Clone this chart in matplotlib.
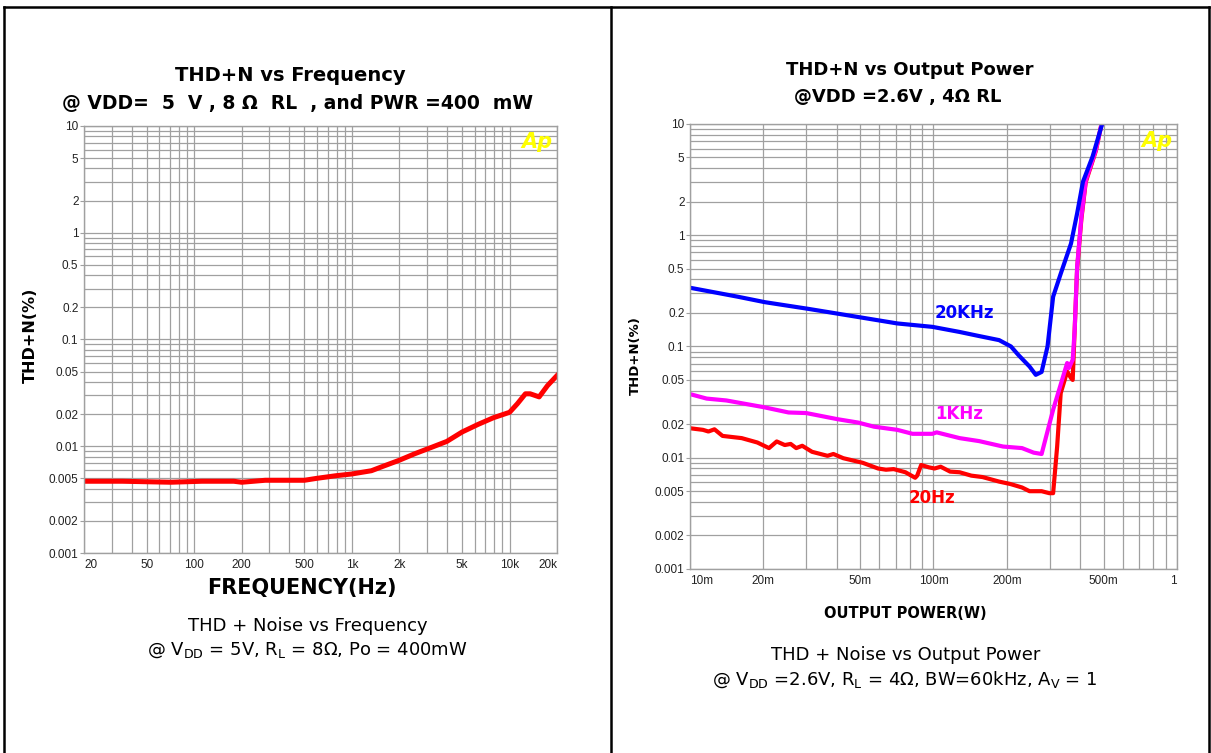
import matplotlib
matplotlib.use("Agg")
import matplotlib.pyplot as plt
from matplotlib.lines import Line2D
from matplotlib.ticker import FixedLocator, LogLocator, NullFormatter

# THD+N vs frequency (left chart)
freq_hz = [20, 35, 71, 112, 178, 200, 282, 500, 596, 794, 1000, 1330, 1580, 2000,
           2500, 3160, 4000, 5000, 6300, 7900, 10000, 11200, 12600, 13500, 15400,
           17400, 20000]
thd_freq = [0.0047, 0.0047, 0.0046, 0.0047, 0.0047, 0.0046, 0.0048, 0.0048, 0.0050,
            0.0053, 0.0055, 0.0059, 0.0065, 0.0074, 0.0085, 0.0097, 0.0111, 0.0136,
            0.0160, 0.0185, 0.0208, 0.025, 0.031, 0.031, 0.029, 0.037, 0.046]

# THD+N vs output power (right chart)
p_20hz = [0.010, 0.0113, 0.0119, 0.0126, 0.0136, 0.0163, 0.0189, 0.0211, 0.0227,
          0.0245, 0.0259, 0.0273, 0.0289, 0.0317, 0.0367, 0.0388, 0.0426, 0.0512,
          0.0592, 0.0638, 0.0686, 0.0767, 0.0841, 0.0857, 0.089, 0.0956, 0.101,
          0.107, 0.117, 0.128, 0.143, 0.159, 0.186, 0.207, 0.231, 0.248, 0.278,
          0.299, 0.310, 0.322, 0.333, 0.354, 0.367, 0.373, 0.380, 0.389, 0.405,
          0.422, 0.464, 0.490]
thd_20hz = [0.0184, 0.0178, 0.0172, 0.018, 0.0157, 0.015, 0.0137, 0.0122, 0.014,
            0.013, 0.0133, 0.0122, 0.0128, 0.0113, 0.0104, 0.0108, 0.0099, 0.0090,
            0.0080, 0.0078, 0.0079, 0.0074, 0.0066, 0.0069, 0.0086, 0.0082, 0.0080,
            0.0083, 0.0075, 0.0074, 0.0069, 0.0067, 0.0061, 0.0058, 0.0054, 0.0050,
            0.0050, 0.0048, 0.0048, 0.0126, 0.038, 0.0595, 0.052, 0.050, 0.14, 0.50,
            1.4, 3.0, 5.7, 10.0]

p_1khz = [0.010, 0.0117, 0.0141, 0.020, 0.0254, 0.030, 0.0403, 0.049, 0.057, 0.071,
          0.082, 0.099, 0.103, 0.128, 0.154, 0.193, 0.231, 0.258, 0.278, 0.310,
          0.354, 0.360, 0.373, 0.380, 0.389, 0.405, 0.422, 0.464, 0.490]
thd_1khz = [0.0373, 0.034, 0.0327, 0.0285, 0.0255, 0.0252, 0.0222, 0.0207, 0.019,
            0.0178, 0.0164, 0.0164, 0.0169, 0.0150, 0.0141, 0.0126, 0.0122, 0.0111,
            0.0108, 0.027, 0.071, 0.064, 0.076, 0.14, 0.52, 1.46, 3.1, 5.8, 10.0]

p_20khz = [0.010, 0.0157, 0.0203, 0.0305, 0.049, 0.071, 0.099, 0.128, 0.154, 0.186,
           0.208, 0.223, 0.248, 0.263, 0.278, 0.294, 0.310, 0.333, 0.367, 0.389,
           0.411, 0.450, 0.493]
thd_20khz = [0.337, 0.28, 0.25, 0.218, 0.184, 0.161, 0.150, 0.135, 0.124, 0.114,
             0.100, 0.084, 0.066, 0.0556, 0.059, 0.10, 0.28, 0.45, 0.84, 1.57, 3.02,
             5.08, 10.0]

y_ticks = [0.001, 0.002, 0.005, 0.01, 0.02, 0.05, 0.1, 0.2, 0.5, 1, 2, 5, 10]
y_labels = ["0.001", "0.002", "0.005", "0.01", "0.02", "0.05", "0.1", "0.2", "0.5",
            "1", "2", "5", "10"]
freq_ticks = [20, 50, 100, 200, 500, 1000, 2000, 5000, 10000, 20000]
freq_labels = ["20", "50", "100", "200", "500", "1k", "2k", "5k", "10k", "20k"]
pwr_ticks = [0.01, 0.02, 0.05, 0.1, 0.2, 0.5, 1]
pwr_labels = ["10m", "20m", "50m", "100m", "200m", "500m", "1"]

GRID = "#a0a0a0"
TICK_FONT = "Liberation Sans"


def setup_axes(ax, xlim, xticks, xlabels):
    ax.set_xscale("log")
    ax.set_yscale("log")
    ax.set_xlim(*xlim)
    ax.set_ylim(0.001, 10)
    ax.xaxis.set_major_locator(FixedLocator(xticks))
    ax.set_xticklabels(xlabels)
    ax.xaxis.set_minor_locator(LogLocator(base=10, subs=range(1, 10), numticks=20))
    ax.xaxis.set_minor_formatter(NullFormatter())
    ax.yaxis.set_major_locator(FixedLocator(y_ticks))
    ax.set_yticklabels(y_labels)
    ax.yaxis.set_minor_locator(LogLocator(base=10, subs=range(1, 10), numticks=20))
    ax.yaxis.set_minor_formatter(NullFormatter())
    ax.grid(True, which="both", color=GRID, lw=0.9)
    ax.set_axisbelow(True)
    for s in ax.spines.values():
        s.set_color(GRID)
        s.set_linewidth(1.0)
    ax.tick_params(axis="y", which="major", length=3, color=GRID, pad=1,
                   labelsize=8.5, labelcolor="#222222")
    ax.tick_params(axis="x", which="major", length=0, pad=4,
                   labelsize=8.5, labelcolor="#222222")
    ax.tick_params(which="minor", length=0)
    for lab in ax.get_xticklabels() + ax.get_yticklabels():
        lab.set_fontfamily(TICK_FONT)
    xl = ax.get_xticklabels()
    xl[0].set_horizontalalignment("left")
    xl[-1].set_horizontalalignment("right")
    ax.text(0.99, 0.985, "Ap", transform=ax.transAxes, ha="right", va="top",
            color="#ffff00", fontsize=15, fontweight="bold", fontstyle="italic")


fig = plt.figure(figsize=(12.11, 7.53), dpi=100)

# table borders
for xs, ys in [((0.0033, 0.9983), (0.9907, 0.9907)),
               ((0.0033, 0.0033), (0.0, 0.9907)),
               ((0.5045, 0.5045), (0.0, 0.9907)),
               ((0.9983, 0.9983), (0.0, 0.9907))]:
    fig.add_artist(Line2D(xs, ys, color="black", lw=1.8, transform=fig.transFigure))

# left chart
ax1 = fig.add_axes([0.0694, 0.2656, 0.3906, 0.5671])
setup_axes(ax1, (20, 20000), freq_ticks, freq_labels)
ax1.plot(freq_hz, thd_freq, color="#ff0000", lw=3.6, solid_joinstyle="round")

fig.text(0.2395, 0.900, "THD+N vs Frequency", ha="center", va="center",
         fontsize=14, fontweight="bold")
fig.text(0.2460, 0.862, "@ VDD=  5  V , 8 Ω  RL  , and PWR =400  mW", ha="center",
         va="center", fontsize=13.5, fontweight="bold")
fig.text(0.0250, 0.555, "THD+N(%)", rotation=90, ha="center", va="center",
         fontsize=11.5, fontweight="bold")
fig.text(0.2490, 0.219, "FREQUENCY(Hz)", ha="center", va="center",
         fontsize=15, fontweight="bold")
fig.text(0.2540, 0.169, "THD + Noise vs Frequency", ha="center", va="center",
         fontsize=13)
fig.text(0.2540, 0.136,
         r"@ V$\mathregular{_{DD}}$ = 5V, R$\mathregular{_L}$ = 8Ω, Po = 400mW",
         ha="center", va="center", fontsize=13)

# right chart
ax2 = fig.add_axes([0.5698, 0.2444, 0.4021, 0.5910])
setup_axes(ax2, (0.01, 1), pwr_ticks, pwr_labels)
ax2.plot(p_20hz, thd_20hz, color="#ff0000", lw=3.0, solid_joinstyle="round")
ax2.plot(p_1khz, thd_1khz, color="#ff00ff", lw=3.0, solid_joinstyle="round")
ax2.plot(p_20khz, thd_20khz, color="#0000ff", lw=3.0, solid_joinstyle="round")
ax2.text(0.134, 0.20, "20KHz", color="#0000ff", fontsize=12, fontweight="bold",
         ha="center", va="center")
ax2.text(0.127, 0.0247, "1KHz", color="#ff00ff", fontsize=12, fontweight="bold",
         ha="center", va="center")
ax2.text(0.0986, 0.0043, "20Hz", color="#ff0000", fontsize=12, fontweight="bold",
         ha="center", va="center")

fig.text(0.7515, 0.907, "THD+N vs Output Power", ha="center", va="center",
         fontsize=13, fontweight="bold")
fig.text(0.7410, 0.871, "@VDD =2.6V , 4Ω RL", ha="center", va="center",
         fontsize=13, fontweight="bold")
fig.text(0.5245, 0.528, "THD+N(%)", rotation=90, ha="center", va="center",
         fontsize=9.5, fontweight="bold")
fig.text(0.7475, 0.185, "OUTPUT POWER(W)", ha="center", va="center",
         fontsize=10.5, fontweight="bold")
fig.text(0.7475, 0.130, "THD + Noise vs Output Power", ha="center", va="center",
         fontsize=13)
fig.text(0.7475, 0.097,
         r"@ V$\mathregular{_{DD}}$ =2.6V, R$\mathregular{_L}$ = 4Ω, BW=60kHz, "
         r"A$\mathregular{_V}$ = 1",
         ha="center", va="center", fontsize=13)

fig.savefig("out.png", dpi=100)
